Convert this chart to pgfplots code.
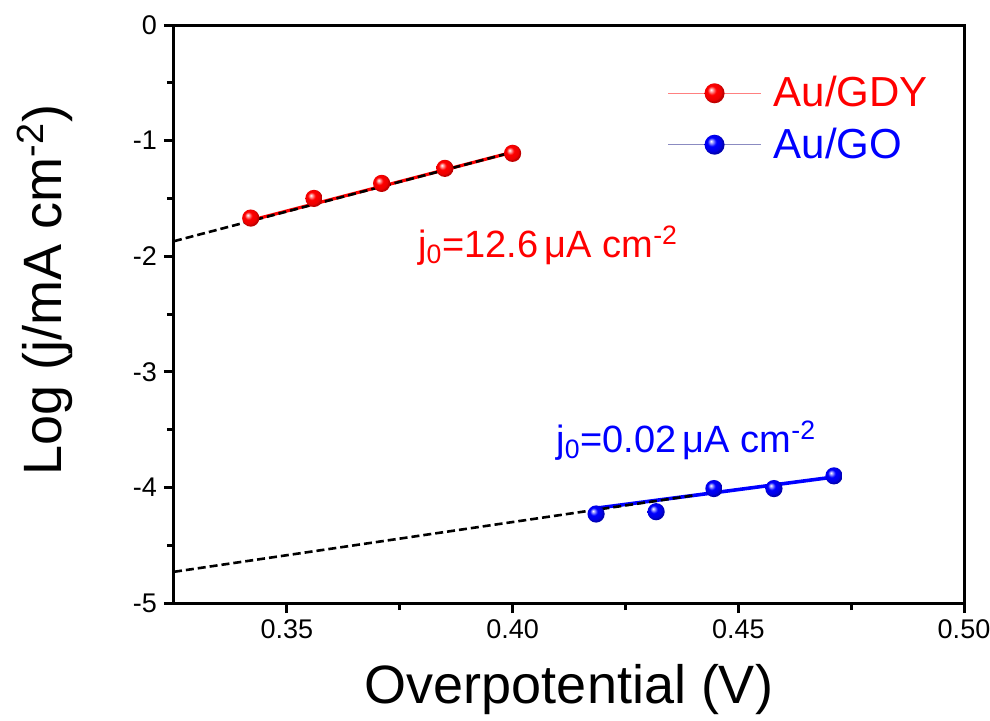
\documentclass[border=0pt]{standalone}
\usepackage{pgfplots}
\pgfplotsset{compat=1.18}
\usepackage{fontspec}
\setmainfont{Liberation Sans}
\pgfdeclareradialshading{redballsh}{\pgfpoint{-9bp}{9bp}}{color(0bp)=(white); color(5bp)=(red!45!white); color(11bp)=(red); color(22bp)=(red!92!black); color(25bp)=(red!75!black); color(50bp)=(red!75!black)}
\pgfdeclareradialshading{blueballsh}{\pgfpoint{-9bp}{9bp}}{color(0bp)=(white); color(5bp)=(blue!45!white); color(11bp)=(blue); color(22bp)=(blue!88!black); color(25bp)=(blue!70!black); color(50bp)=(blue!70!black)}
\pgfdeclareplotmark{redball}{\pgfpathcircle{\pgfpointorigin}{\pgfplotmarksize}\pgfshadepath{redballsh}{0}\pgfusepath{discard}}
\pgfdeclareplotmark{blueball}{\pgfpathcircle{\pgfpointorigin}{\pgfplotmarksize}\pgfshadepath{blueballsh}{0}\pgfusepath{discard}}
\begin{document}
\begin{tikzpicture}
\begin{axis}[
  scale only axis, width=395pt, height=289pt,
  xmin=0.325, xmax=0.50, ymin=-5, ymax=0,
  xtick={0.35,0.40,0.45,0.50}, ytick={-5,-4,-3,-2,-1,0},
  minor x tick num=1, minor y tick num=1,
  tick align=outside, xtick pos=left, ytick pos=left,
  major tick length=5pt, minor tick length=3.5pt,
  axis line style={line width=1.5pt},
  every tick/.style={line width=1.5pt, black},
  xticklabel style={/pgf/number format/.cd, fixed, fixed zerofill, precision=2, assume math mode=true},
  yticklabel style={/pgf/number format/assume math mode=true},
  tick label style={font=\fontsize{13.5}{16}\selectfont},
  xlabel={Overpotential (V)},
  ylabel={Log (j/mA cm\textsuperscript{-2})},
  label style={font=\fontsize{27}{32}\selectfont},
  xlabel style={at={(axis description cs:0.5,-0.1505)}, anchor=center},
  ylabel style={at={(axis description cs:-0.1633,0.5415)}, anchor=center},
  legend style={at={(axis cs:0.4342,-0.813)}, anchor=west, draw=none, fill=none,
    inner sep=0pt, font=\fontsize{21}{25}\selectfont, row sep=5pt, column sep=4pt},
  legend cell align=left,
]
% legend entries
\addlegendimage{legend image code/.code={
    \draw[red!50, line width=0.7pt] (0pt,0pt) -- (46.5pt,0pt);
    \draw[draw=none, mark=redball, mark size=5pt] plot coordinates {(23.25pt,0pt)};}}
\addlegendentry{\textcolor{red}{Au/GDY}}
\addlegendimage{legend image code/.code={
    \draw[blue!30!gray!70, line width=0.7pt] (0pt,0pt) -- (46.5pt,0pt);
    \draw[draw=none, mark=blueball, mark size=5pt] plot coordinates {(23.25pt,0pt)};}}
\addlegendentry{\textcolor{blue}{Au/GO}}

% Au/GDY data
\addplot[only marks, mark=redball, mark size=4.3pt, forget plot]
  coordinates {(0.342,-1.67) (0.356,-1.50) (0.371,-1.37) (0.385,-1.24) (0.400,-1.11)};
\addplot[red, line width=1.6pt, forget plot] coordinates {(0.342,-1.69) (0.400,-1.10)};
\addplot[black, line width=1.3pt, dash pattern=on 4pt off 2pt, forget plot]
  coordinates {(0.325,-1.87) (0.400,-1.10)};

% Au/GO data
\addplot[only marks, mark=blueball, mark size=4.3pt, forget plot]
  coordinates {(0.4185,-4.23) (0.4318,-4.21) (0.4446,-4.01) (0.4579,-4.01) (0.4712,-3.90)};
\addplot[blue, line width=1.8pt, forget plot] coordinates {(0.4185,-4.18) (0.4712,-3.91)};
\addplot[black, line width=1.3pt, dash pattern=on 4pt off 2pt, forget plot]
  coordinates {(0.325,-4.73) (0.440,-4.07)};

\node[anchor=base west, inner sep=0pt, text=red, font=\fontsize{19}{23}\selectfont]
  at (axis cs:0.379,-2.007) {j\textsubscript{0}=12.6\,μA cm\textsuperscript{-2}};
\node[anchor=base west, inner sep=0pt, text=blue, font=\fontsize{19}{23}\selectfont]
  at (axis cs:0.4096,-3.694) {j\textsubscript{0}=0.02\,μA cm\textsuperscript{-2}};
\end{axis}
\pgfresetboundingbox
\path ([xshift=-87pt,yshift=-58.5pt]current axis.south west) rectangle ++(495pt,360pt);
\end{tikzpicture}
\end{document}
